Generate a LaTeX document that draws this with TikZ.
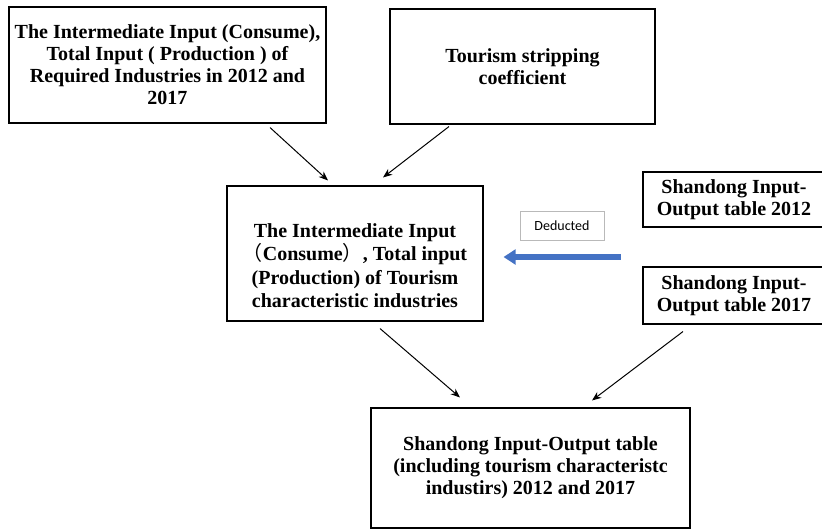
\documentclass[tikz,border=0pt]{standalone}
\usepackage{fontspec}
\setmainfont{Liberation Serif}
\newfontfamily\cjkfont{Noto Sans CJK SC}
\newfontfamily\dedfont{Carlito}
\usetikzlibrary{arrows.meta}
\definecolor{arrblue}{HTML}{4472C4}
\begin{document}
\begin{tikzpicture}[
        x=0.75pt, y=-0.75pt,
        bx/.style={draw, line width=0.8pt, align=center, inner sep=0pt,
          font=\fontsize{15}{16.5}\selectfont\bfseries},
        ar/.style={line width=0.75pt, -{Stealth[length=7pt,width=5.5pt]}}
      ]
      \useasboundingbox (0,0) rectangle (822,529);
      \clip (0,0) rectangle (822,529);
      % boxes
      \node[bx, minimum width=237.75pt, minimum height=87pt] (req) at (167.5,65)
        {The Intermediate Input (Consume),\\ Total Input ( Production ) of\\
         Required Industries in 2012 and\\ 2017};
      \node[bx, minimum width=198.75pt, minimum height=86.25pt] (coef) at (522.5,66.5)
        {Tourism stripping\\ coefficient};
      \node[bx, minimum width=192pt, minimum height=101.25pt, text height=81pt,
        font=\fontsize{15}{17.5}\selectfont\bfseries] (tour) at (355,253.5)
        {The Intermediate Input\\ {\cjkfont\mdseries （}Consume{\cjkfont\mdseries ）}, Total input\\
         (Production) of Tourism\\ characteristic industries};
      \node[bx, minimum width=136.5pt, minimum height=41.25pt] (t12) at (734,199.5)
        {Shandong Input-\\ Output table 2012};
      \node[bx, minimum width=136.5pt, minimum height=42.75pt] (t17) at (734,295.5)
        {Shandong Input-\\ Output table 2017};
      \node[bx, minimum width=239.25pt, minimum height=90pt] (sdio) at (530.5,468)
        {Shandong Input-Output table\\ (including tourism characteristc\\
         industirs) 2012 and 2017};
      \node[draw=gray!55, line width=0.6pt, minimum width=63pt, minimum height=21.75pt,
        inner sep=0pt, font=\dedfont\fontsize{10.5}{12}\selectfont] (ded) at (562,225.5) {Deducted};
      % connectors
      \draw[ar] ([shift={(102.5,4)}]req.south) -- ([shift={(-27,-5)}]tour.north);
      \draw[ar] ([shift={(-73.5,2)}]coef.south) -- ([shift={(28,-8)}]tour.north);
      \draw[ar] ([shift={(25,7)}]tour.south) -- ([shift={(-70.5,-10)}]sdio.north);
      \draw[ar] ([shift={(-51,7)}]t17.south) -- ([shift={(61.5,-7)}]sdio.north);
      \draw[arrblue, line width=4.5pt, -{Triangle[length=9pt,width=11pt]}]
        ([shift={(137,3.5)}]tour.east) -- ([shift={(20,3.5)}]tour.east);
\end{tikzpicture}
\end{document}
